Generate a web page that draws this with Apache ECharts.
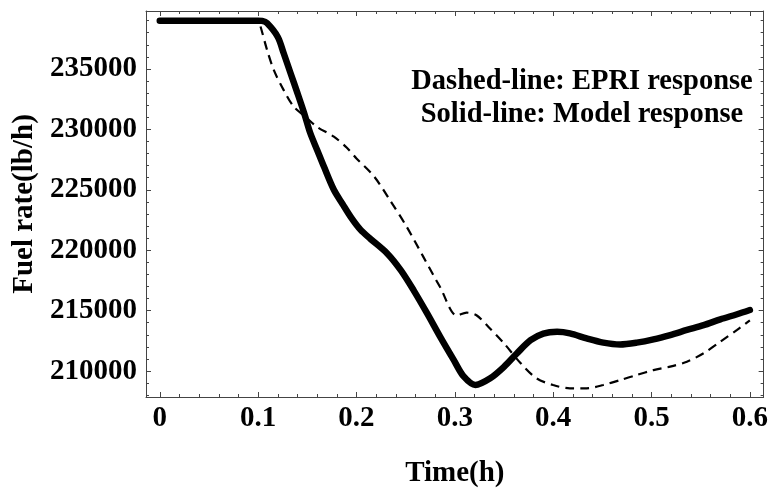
<!DOCTYPE html>
<html>
<head>
<meta charset="utf-8">
<script src="https://cdn.jsdelivr.net/npm/echarts@6/dist/echarts.min.js"></script>
<style>html,body{margin:0;padding:0;background:#fff;}#c{width:771px;height:494px;}</style>
</head>
<body>
<div id="c"></div>
<script>
// ---- data ----
const modelTime = [0, 0.1, 0.104, 0.109, 0.12, 0.126, 0.133, 0.14, 0.147, 0.153, 0.16, 0.167, 0.177, 0.186, 0.195, 0.204, 0.214, 0.231, 0.245, 0.258, 0.272, 0.285, 0.299, 0.309, 0.321, 0.336, 0.35, 0.363, 0.377, 0.39, 0.404, 0.417, 0.434, 0.451, 0.468, 0.485, 0.502, 0.519, 0.536, 0.553, 0.57, 0.587, 0.6];
const modelFuel = [239000, 239000, 238980, 238800, 237650, 236300, 234650, 233000, 231300, 229700, 228300, 226900, 225000, 223800, 222650, 221700, 220950, 219750, 218350, 216700, 214750, 212850, 210900, 209550, 208850, 209400, 210350, 211450, 212550, 213100, 213250, 213120, 212700, 212350, 212200, 212350, 212620, 212980, 213400, 213800, 214280, 214700, 215050];

const epriTime = [0, 0.1, 0.1025, 0.109, 0.116, 0.126, 0.136, 0.148, 0.16, 0.177, 0.19, 0.2, 0.218, 0.234, 0.251, 0.268, 0.285, 0.302, 0.312, 0.322, 0.334, 0.35, 0.367, 0.383, 0.4, 0.417, 0.434, 0.451, 0.468, 0.485, 0.502, 0.519, 0.536, 0.553, 0.57, 0.587, 0.6];
const epriFuel = [239000, 239000, 238500, 236600, 234900, 233250, 231900, 231050, 230200, 229400, 228500, 227600, 226100, 224150, 221950, 219450, 216950, 214600, 214830, 214620, 213670, 212290, 210640, 209400, 208840, 208570, 208570, 208840, 209250, 209670, 210080, 210360, 210770, 211470, 212430, 213400, 214200];

const xTickLabels = [0, 0.1, 0.2, 0.3, 0.4, 0.5, 0.6];
const xMinorTicks = [0.02, 0.04, 0.06, 0.08, 0.12, 0.14, 0.16, 0.18, 0.22, 0.24, 0.26, 0.28, 0.32, 0.34, 0.36, 0.38, 0.42, 0.44, 0.46, 0.48, 0.52, 0.54, 0.56, 0.58];
const yTickLabels = [210000, 215000, 220000, 225000, 230000, 235000];
const yMinorTicks = [208000, 209000, 211000, 212000, 213000, 214000, 216000, 217000, 218000, 219000, 221000, 222000, 223000, 224000, 226000, 227000, 228000, 229000, 231000, 232000, 233000, 234000, 236000, 237000, 238000, 239000];

const xMin = -0.014, xMax = 0.614;
const yMin = 207850, yMax = 239800;

const legendLines = ['Dashed-line: EPRI response', 'Solid-line: Model response'];
const xTitle = 'Time(h)';
const yTitle = 'Fuel rate(lb/h)';
// --------------------------------------

const FONT = "'Liberation Serif', 'Times New Roman', serif";
const FS = 29;
const frameColor = '#444';

function xAxisDef(pos, ticks, len, labels, withLine) {
  return {
    type: 'value', position: pos, min: xMin, max: xMax,
    axisLine: { show: withLine, onZero: false, lineStyle: { color: frameColor, width: 1 } },
    axisTick: { show: true, inside: true, length: len, customValues: ticks, lineStyle: { color: frameColor, width: 1 } },
    axisLabel: labels ? {
      show: true, customValues: xTickLabels, formatter: v => String(v), margin: 7,
      color: '#000', fontFamily: FONT, fontWeight: 'bold', fontSize: FS
    } : { show: false },
    splitLine: { show: false }
  };
}
function yAxisDef(pos, ticks, len, labels, withLine) {
  return {
    type: 'value', position: pos, min: yMin, max: yMax,
    axisLine: { show: withLine, onZero: false, lineStyle: { color: frameColor, width: 1 } },
    axisTick: { show: true, inside: true, length: len, customValues: ticks, lineStyle: { color: frameColor, width: 1 } },
    axisLabel: labels ? {
      show: true, customValues: yTickLabels, formatter: v => String(v), margin: 9,
      color: '#000', fontFamily: FONT, fontWeight: 'bold', fontSize: FS
    } : { show: false },
    splitLine: { show: false }
  };
}

const xMain = xAxisDef('bottom', xTickLabels, 5, true, true);
xMain.name = xTitle;
xMain.nameLocation = 'middle';
xMain.nameGap = 62;
xMain.nameTextStyle = { color: '#000', fontFamily: FONT, fontWeight: 'bold', fontSize: FS };

const yMain = yAxisDef('left', yTickLabels, 5, true, true);
yMain.name = yTitle;
yMain.nameLocation = 'middle';
yMain.nameGap = 115;
yMain.nameRotate = 90;
yMain.nameTextStyle = { color: '#000', fontFamily: FONT, fontWeight: 'bold', fontSize: FS, verticalAlign: 'middle' };

const chart = echarts.init(document.getElementById('c'), null, { renderer: 'canvas' });
chart.setOption({
  animation: false,
  backgroundColor: '#fff',
  grid: { left: 146, right: 7, top: 11, bottom: 97, containLabel: false },
  xAxis: [
    xMain,
    xAxisDef('bottom', xMinorTicks, 3, false, false),
    xAxisDef('top', xTickLabels, 5, false, true),
    xAxisDef('top', xMinorTicks, 3, false, false)
  ],
  yAxis: [
    yMain,
    yAxisDef('left', yMinorTicks, 3, false, false),
    yAxisDef('right', yTickLabels, 5, false, true),
    yAxisDef('right', yMinorTicks, 3, false, false)
  ],
  title: {
    text: legendLines.join('\n'),
    left: 577, top: 60, textAlign: 'center',
    textStyle: { color: '#000', fontFamily: FONT, fontWeight: 'bold', fontSize: 28.5, lineHeight: 33 }
  },
  series: [
    {
      name: 'EPRI response', type: 'line', xAxisIndex: 0, yAxisIndex: 0,
      data: epriTime.map((t, i) => [t, epriFuel[i]]),
      showSymbol: false, smooth: 0.3,
      lineStyle: { color: '#000', width: 2.2, type: [9, 6] },
      z: 2
    },
    {
      name: 'Model response', type: 'line', xAxisIndex: 0, yAxisIndex: 0,
      data: modelTime.map((t, i) => [t, modelFuel[i]]),
      showSymbol: false, smooth: 0.3,
      lineStyle: { color: '#000', width: 6.5, cap: 'round', join: 'round' },
      z: 3
    }
  ]
});
</script>
</body>
</html>
